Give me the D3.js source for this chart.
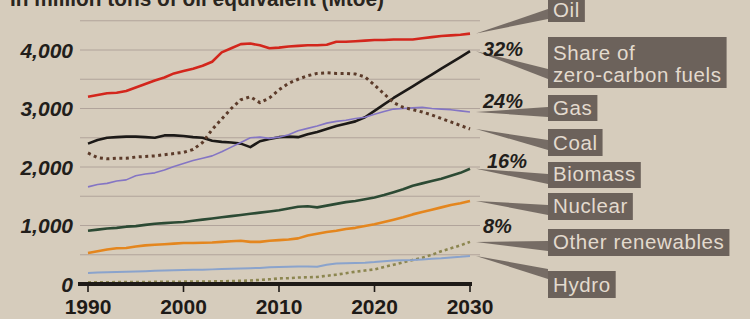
<!DOCTYPE html>
<html>
<head>
<meta charset="utf-8">
<script src="https://cdn.jsdelivr.net/npm/d3@7"></script>
<style>
  html, body { margin: 0; padding: 0; background: #d6ccbc; }
  svg { display: block; font-family: "Liberation Sans", Arial, sans-serif; }
</style>
</head>
<body>
<div id="chart"></div>
<script>

const years = d3.range(1990, 2031)

const oil = [3200, 3230, 3260, 3270, 3300, 3360, 3420, 3480, 3530, 3600, 3640, 3680, 3730, 3800, 3960, 4030, 4100, 4110, 4080, 4030, 4040, 4060, 4070, 4080, 4080, 4090, 4140, 4140, 4150, 4160, 4170, 4170, 4180, 4180, 4180, 4200, 4220, 4240, 4250, 4260, 4280]
const zeroCarbon = [2400, 2460, 2500, 2510, 2520, 2520, 2510, 2500, 2540, 2540, 2530, 2510, 2500, 2450, 2430, 2420, 2400, 2340, 2440, 2480, 2510, 2520, 2510, 2560, 2600, 2650, 2700, 2740, 2780, 2850, 2960, 3070, 3180, 3280, 3380, 3480, 3580, 3680, 3780, 3880, 3980]
const gas = [1660, 1700, 1720, 1760, 1780, 1850, 1880, 1900, 1950, 2010, 2060, 2110, 2150, 2190, 2260, 2340, 2420, 2500, 2510, 2490, 2510, 2550, 2620, 2660, 2700, 2750, 2780, 2800, 2830, 2850, 2900, 2950, 2990, 3000, 3010, 3020, 3000, 2990, 2980, 2960, 2940]
const coal = [2240, 2160, 2140, 2150, 2150, 2170, 2180, 2190, 2210, 2230, 2250, 2300, 2420, 2640, 2820, 3000, 3150, 3200, 3100, 3180, 3320, 3430, 3500, 3560, 3600, 3610, 3600, 3600, 3590, 3540, 3400, 3250, 3100, 3020, 2980, 2940, 2890, 2830, 2770, 2710, 2650]
const biomass = [910, 930, 950, 960, 980, 990, 1010, 1030, 1040, 1050, 1060, 1080, 1100, 1120, 1140, 1160, 1180, 1200, 1220, 1240, 1260, 1290, 1320, 1330, 1310, 1340, 1370, 1400, 1420, 1450, 1480, 1520, 1570, 1620, 1680, 1720, 1760, 1800, 1850, 1900, 1970]
const nuclear = [530, 560, 590, 610, 615, 640, 660, 670, 680, 690, 700, 700, 705, 710, 720, 730, 740, 720, 720, 740, 750, 760, 780, 830, 860, 890, 910, 940, 960, 990, 1020, 1060, 1100, 1140, 1190, 1230, 1270, 1310, 1350, 1380, 1420]
const otherRenewables = [30, 30, 30, 32, 32, 34, 34, 36, 36, 38, 40, 40, 42, 44, 46, 50, 55, 60, 70, 80, 95, 100, 110, 115, 120, 140, 160, 185, 210, 230, 250, 290, 330, 370, 410, 450, 500, 560, 610, 660, 720]
const hydro = [190, 195, 200, 205, 210, 215, 220, 225, 230, 235, 240, 245, 245, 250, 255, 260, 265, 270, 275, 285, 290, 295, 300, 300, 295, 330, 350, 355, 360, 365, 375, 390, 400, 405, 410, 420, 430, 440, 455, 465, 480]

const seriesNames = ["Oil", "Share of\nzero-carbon fuels", "Gas", "Coal", "Biomass", "Nuclear", "Other renewables", "Hydro"]
const seriesValues = [oil, zeroCarbon, gas, coal, biomass, nuclear, otherRenewables, hydro]
const shareLabels = ["", "32%", "24%", "", "16%", "", "8%", ""]

const yTicks = [0, 1000, 2000, 3000, 4000]
const gridValues = [500, 1000, 1500, 2000, 2500, 3000, 3500, 4000, 4500]
const xTicks = [1990, 2000, 2010, 2020, 2030]
const title = "In million tons of oil equivalent (Mtoe)"

// look of each series, same order as seriesNames
const styles = [
    { color: "#d3261c", width: 2.6, dash: null },
    { color: "#1c1917", width: 2.6, dash: null },
    { color: "#8475c4", width: 1.6, dash: null },
    { color: "#5c3b2a", width: 3, dash: "3,3.5" },
    { color: "#2c4a34", width: 2.6, dash: null },
    { color: "#e4861e", width: 2.6, dash: null },
    { color: "#8c8650", width: 2.6, dash: "3,3" },
    { color: "#8aa3cc", width: 2, dash: null }
]

// label boxes on the right: top, height, where the wedge meets the box, text baselines
const boxLayout = [
    { top: 0,   h: 22, wedge: 14, lines: [17] },
    { top: 37,  h: 51, wedge: 74, lines: [60, 82] },
    { top: 95,  h: 26, wedge: 112, lines: [115] },
    { top: 129, h: 27, wedge: 145, lines: [150] },
    { top: 162, h: 26, wedge: 179, lines: [181] },
    { top: 193, h: 27, wedge: 210, lines: [213] },
    { top: 229, h: 27, wedge: 246, lines: [249] },
    { top: 271, h: 27, wedge: 274, lines: [292] }
]
const shareLayout = [null, { x: 483, y: 56 }, { x: 483, y: 108 }, null, { x: 487, y: 168 }, null, { x: 483, y: 233 }, null]

const width = 750, height = 319

const svg = d3.select("#chart").append("svg")
    .attr("width", width)
    .attr("height", height)

svg.append("rect")
    .attr("width", width)
    .attr("height", height)
    .attr("fill", "#d6ccbc")

const x = d3.scaleLinear().domain([1990, 2030]).range([88, 470])
const y = d3.scaleLinear().domain([0, 4000]).range([284, 50])

// title (cut off at top in the photo)
svg.append("text")
    .attr("x", 10)
    .attr("y", 6)
    .attr("font-size", 22)
    .attr("font-weight", "bold")
    .attr("fill", "#2a2520")
    .attr("textLength", 374)
    .attr("lengthAdjust", "spacingAndGlyphs")
    .text(title)

// grid
svg.append("g")
    .selectAll("line")
    .data(gridValues)
    .join("line")
    .attr("x1", 80)
    .attr("x2", 480)
    .attr("y1", d => y(d))
    .attr("y2", d => y(d))
    .attr("stroke", "#a4958f")
    .attr("stroke-width", 0.9)
    .attr("opacity", 0.8)

// y labels
svg.append("g")
    .selectAll("text")
    .data(yTicks)
    .join("text")
    .attr("x", 73)
    .attr("y", d => y(d))
    .attr("dy", "0.36em")
    .attr("text-anchor", "end")
    .attr("font-size", 21)
    .attr("font-style", "italic")
    .attr("font-weight", "bold")
    .attr("fill", "#221e1b")
    .text(d => d3.format(",")(d))

// lines
const line = d3.line()
    .x((d, i) => x(years[i]))
    .y(d => y(d))

svg.append("g")
    .selectAll("path")
    .data(seriesValues)
    .join("path")
    .attr("d", line)
    .attr("fill", "none")
    .attr("stroke", (d, i) => styles[i].color)
    .attr("stroke-width", (d, i) => styles[i].width)
    .attr("stroke-dasharray", (d, i) => styles[i].dash)
    .attr("stroke-linejoin", "round")

// x axis
const xAxis = svg.append("g")
xAxis.append("line")
    .attr("x1", 78).attr("x2", x(2030) + 2)
    .attr("y1", y(0)).attr("y2", y(0))
    .attr("stroke", "#1e1a17")
    .attr("stroke-width", 4)
xAxis.selectAll(".tick")
    .data(xTicks)
    .join("line")
    .attr("x1", d => x(d)).attr("x2", d => x(d))
    .attr("y1", y(0)).attr("y2", y(0) + 8)
    .attr("stroke", "#1e1a17")
    .attr("stroke-width", 1.6)
xAxis.selectAll("text")
    .data(xTicks)
    .join("text")
    .attr("x", d => x(d))
    .attr("y", 314)
    .attr("text-anchor", "middle")
    .attr("font-size", 21)
    .attr("font-weight", "bold")
    .attr("fill", "#1e1a17")
    .text(d => d)

// labels on the right
const boxX = 548
const boxFill = "#6c625b"

const labels = svg.append("g")
seriesNames.forEach((name, i) => {
    const lay = boxLayout[i]
    const endY = y(seriesValues[i][seriesValues[i].length - 1])
    labels.append("path")
        .attr("d", `M${x(2030) + 6},${endY} L${boxX},${lay.wedge - 5} L${boxX},${lay.wedge + 5} Z`)
        .attr("fill", boxFill)
        .attr("opacity", 0.9)

    const box = labels.append("rect")
        .attr("x", boxX)
        .attr("y", lay.top)
        .attr("height", lay.h)
        .attr("fill", boxFill)

    let maxW = 0
    name.split("\n").forEach((t, j) => {
        const txt = labels.append("text")
            .attr("x", boxX + 5)
            .attr("y", lay.lines[j])
            .attr("font-size", 20.5)
            .attr("letter-spacing", 0.6)
            .attr("fill", "#e3dace")
            .text(t)
        maxW = Math.max(maxW, txt.node().getComputedTextLength())
    })
    box.attr("width", maxW + 10)

    if (shareLabels[i]) {
        labels.append("text")
            .attr("x", shareLayout[i].x)
            .attr("y", shareLayout[i].y)
            .attr("font-size", 20)
            .attr("font-style", "italic")
            .attr("font-weight", "bold")
            .attr("fill", "#221e1b")
            .text(shareLabels[i])
    }
})

</script>
</body>
</html>
